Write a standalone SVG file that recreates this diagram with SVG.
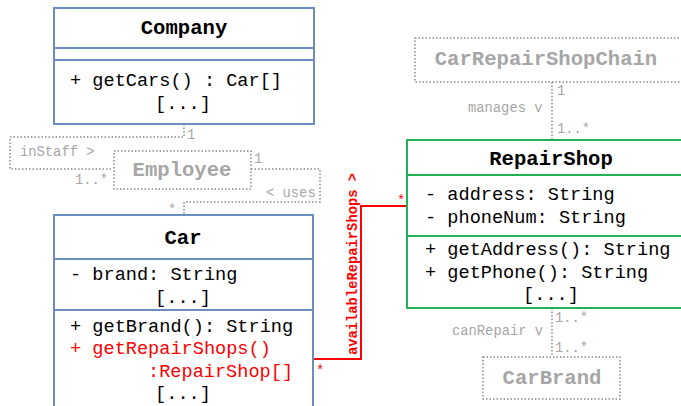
<svg xmlns="http://www.w3.org/2000/svg" width="681" height="406" viewBox="0 0 681 406">
  <style>
    .box { fill: #ffffff; stroke-width: 2; }
    .blue { stroke: #6c8ebf; }
    .green { stroke: #1fb355; }
    .ghost { fill: #ffffff; stroke: #8a8a8a; stroke-width: 1.5; stroke-dasharray: 1.5 2; }
    .sep { stroke-width: 2; fill: none; }
    .title { font-family: "Liberation Mono", monospace; font-weight: bold; font-size: 20.6px; fill: #000; text-anchor: middle; }
    .ghost-title { font-family: "Liberation Mono", monospace; font-weight: bold; font-size: 20.6px; fill: #a6a6a6; text-anchor: middle; }
    .member { font-family: "Liberation Mono", monospace; font-size: 18.6px; fill: #000; }
    .red { fill: #ff0000; }
    .mid { text-anchor: middle; }
    .lbl { font-family: "Liberation Mono", monospace; font-size: 13.8px; fill: #a6a6a6; }
    .dot { fill: none; stroke: #8a8a8a; stroke-width: 1.5; stroke-dasharray: 1.5 2; }
    .assoc { fill: none; stroke: #ff0000; stroke-width: 2; }
    .redlbl { font-family: "Liberation Mono", monospace; font-size: 13.8px; fill: #ff0000; }
  </style>

  <!-- connectors -->
  <g id="connectors">
    <!-- Company to Employee (inStaff) -->
    <path class="dot" d="M184 124 V137 H10 V169 H113"/>
    <text class="lbl" x="187" y="139">1</text>
    <text class="lbl" x="20" y="156">inStaff &gt;</text>
    <text class="lbl" x="75" y="184">1..*</text>

    <!-- Employee to Car (uses) -->
    <path class="dot" d="M251 169 H320 V202 H184 V215"/>
    <text class="lbl" x="254" y="163">1</text>
    <text class="lbl" x="266" y="197">&lt; uses</text>
    <text class="lbl" x="168" y="214">*</text>

    <!-- CarRepairShopChain to RepairShop (manages) -->
    <path class="dot" d="M552 82 V140"/>
    <text class="lbl" x="557" y="95">1</text>
    <text class="lbl" x="468" y="112">manages v</text>
    <text class="lbl" x="557" y="133">1..*</text>

    <!-- RepairShop to CarBrand (canRepair) -->
    <path class="dot" d="M552 308 V357"/>
    <text class="lbl" x="555" y="322">1..*</text>
    <text class="lbl" x="452" y="335">canRepair v</text>
    <text class="lbl" x="555" y="352">1..*</text>

    <!-- Car to RepairShop (availableRepairShops) -->
    <path class="assoc" d="M313 359 H361 V206 H407"/>
    <text class="redlbl" x="316" y="375">*</text>
    <text class="redlbl" x="397" y="205">*</text>
    <text class="redlbl" font-weight="bold" text-anchor="middle" transform="translate(357 264) rotate(-90)">availableRepairShops &gt;</text>
  </g>

  <!-- Company class -->
  <g id="company">
    <rect class="box blue" x="54" y="8" width="260" height="116"/>
    <path class="sep blue" d="M54 48 H314 M54 60 H314"/>
    <text class="title" x="184" y="34">Company</text>
    <text class="member" x="70" y="86">+ getCars() : Car[]</text>
    <text class="member mid" x="183" y="109">[...]</text>
  </g>

  <!-- Employee (context class) -->
  <g id="employee">
    <rect class="ghost" x="114" y="151" width="137" height="38"/>
    <text class="ghost-title" x="182" y="176">Employee</text>
  </g>

  <!-- Car class -->
  <g id="car">
    <rect class="box blue" x="54" y="215" width="259" height="200"/>
    <path class="sep blue" d="M54 259 H313 M54 310 H313"/>
    <text class="title" x="183" y="244">Car</text>
    <text class="member" x="70" y="280">- brand: String</text>
    <text class="member mid" x="183" y="303">[...]</text>
    <text class="member" x="70" y="332">+ getBrand(): String</text>
    <text class="member red" x="70" y="354">+ getRepairShops()</text>
    <text class="member red" x="148" y="377">:RepairShop[]</text>
    <text class="member mid" x="183" y="399">[...]</text>
  </g>

  <!-- CarRepairShopChain (context class) -->
  <g id="car-repair-shop-chain">
    <rect class="ghost" x="415" y="38" width="280" height="44"/>
    <text class="ghost-title" x="546" y="65">CarRepairShopChain</text>
  </g>

  <!-- RepairShop class -->
  <g id="repair-shop">
    <rect class="box green" x="407" y="140" width="290" height="168"/>
    <path class="sep green" d="M407 175 H697 M407 236 H697"/>
    <text class="title" x="551" y="165">RepairShop</text>
    <text class="member" x="425" y="200">- address: String</text>
    <text class="member" x="425" y="223">- phoneNum: String</text>
    <text class="member" x="425" y="255">+ getAddress(): String</text>
    <text class="member" x="425" y="278">+ getPhone(): String</text>
    <text class="member mid" x="551" y="300">[...]</text>
  </g>

  <!-- CarBrand (context class) -->
  <g id="car-brand">
    <rect class="ghost" x="483" y="357" width="137" height="42"/>
    <text class="ghost-title" x="552" y="384">CarBrand</text>
  </g>
</svg>
